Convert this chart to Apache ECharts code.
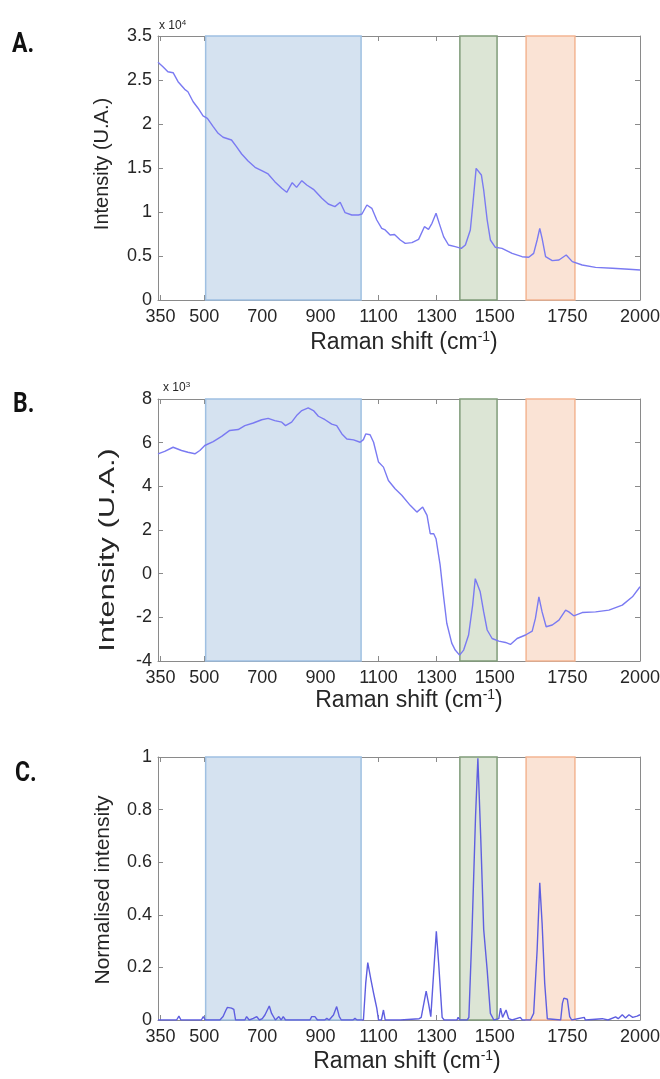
<!DOCTYPE html>
<html>
<head>
<meta charset="utf-8">
<script src="https://cdn.jsdelivr.net/npm/echarts@6/dist/echarts.min.js"></script>
<style>
html,body{margin:0;padding:0;background:#fff;}
#chart{width:660px;height:1079px;}
</style>
</head>
<body>
<div id="chart"></div>
<script>
// ---------------- data ----------------
const xTickValues = [350, 500, 700, 900, 1100, 1300, 1500, 1750, 2000];
const xTickLabels = ['350', '500', '700', '900', '1100', '1300', '1500', '1750', '2000'];
const yTickLabelsA = ['0', '0.5', '1', '1.5', '2', '2.5', '3.5'];
const yTickLabelsB = ['-4', '-2', '0', '2', '4', '6', '8'];
const yTickLabelsC = ['0', '0.2', '0.4', '0.6', '0.8', '1'];

const regionBlue = [505, 1040];
const regionGreen = [1380, 1508];
const regionOrange = [1608, 1776];

const shiftA = [341, 358, 375, 393, 410, 433, 444, 462, 479, 496, 511, 531, 548, 565, 594, 611, 629, 651, 675, 698, 720, 743, 767, 784, 803, 818, 836, 853, 876, 905, 927, 950, 968, 985, 1008, 1031, 1043, 1060, 1077, 1094, 1111, 1123, 1140, 1155, 1175, 1192, 1215, 1238, 1258, 1272, 1284, 1298, 1309, 1324, 1341, 1364, 1385, 1399, 1416, 1425, 1436, 1442, 1454, 1462, 1474, 1485, 1502, 1525, 1560, 1594, 1617, 1634, 1646, 1655, 1663, 1675, 1698, 1721, 1746, 1767, 1801, 1847, 1905, 1962, 2000];
const intensityA = [27010, 26510, 25940, 25830, 24810, 23940, 23670, 22530, 21790, 20910, 20650, 19700, 18940, 18490, 18180, 17420, 16590, 15800, 15080, 14690, 14320, 13450, 12690, 12240, 13330, 12800, 13560, 13070, 12580, 11560, 10910, 10610, 11100, 9920, 9660, 9660, 9770, 10800, 10420, 9090, 8150, 7960, 7390, 7450, 6820, 6440, 6520, 6890, 8330, 8030, 8710, 9850, 8710, 7200, 6250, 6060, 5870, 6250, 7960, 10990, 14960, 15080, 14210, 12500, 9090, 6820, 5990, 5870, 5300, 4920, 4850, 5300, 6820, 8140, 7010, 4920, 4470, 4550, 5110, 4360, 3980, 3710, 3600, 3490, 3410];

const shiftB = [341, 364, 393, 422, 444, 468, 485, 502, 531, 560, 588, 617, 640, 669, 698, 720, 743, 767, 780, 801, 818, 836, 858, 876, 893, 916, 939, 956, 974, 991, 1014, 1037, 1048, 1056, 1071, 1083, 1100, 1117, 1134, 1157, 1180, 1209, 1232, 1252, 1267, 1278, 1290, 1298, 1305, 1312, 1324, 1335, 1352, 1364, 1379, 1393, 1410, 1424, 1433, 1439, 1450, 1462, 1474, 1491, 1514, 1537, 1554, 1577, 1606, 1629, 1640, 1652, 1663, 1677, 1698, 1721, 1744, 1755, 1772, 1801, 1847, 1893, 1939, 1974, 2000];
const intensityB = [5490, 5600, 5790, 5640, 5560, 5490, 5640, 5870, 6050, 6290, 6560, 6600, 6780, 6900, 7050, 7110, 7010, 6940, 6780, 6940, 7240, 7470, 7590, 7470, 7210, 7050, 6850, 6780, 6400, 6170, 6130, 6020, 6140, 6400, 6360, 6020, 5110, 4880, 4270, 3890, 3590, 3130, 2820, 3050, 2670, 1830, 1830, 1600, 1000, 400, -1050, -2270, -3180, -3500, -3730, -3500, -2810, -1440, -230, -200, -830, -1750, -2580, -2970, -3090, -3150, -3240, -2970, -2810, -2630, -2050, -1060, -1750, -2430, -2350, -2130, -1670, -1750, -1930, -1780, -1750, -1670, -1440, -1060, -600];

const shiftC = [341, 405, 413, 420, 490, 497, 504, 554, 565, 575, 580, 594, 602, 608, 640, 646, 655, 669, 681, 690, 700, 709, 724, 732, 745, 757, 765, 772, 780, 864, 870, 881, 890, 915, 922, 930, 945, 956, 965, 972, 1012, 1019, 1026, 1048, 1056, 1063, 1074, 1083, 1088, 1094, 1100, 1110, 1117, 1123, 1175, 1240, 1247, 1264, 1272, 1280, 1299, 1307, 1319, 1326, 1370, 1374, 1380, 1405, 1411, 1422, 1434, 1442, 1452, 1462, 1474, 1485, 1497, 1514, 1520, 1527, 1539, 1548, 1560, 1588, 1595, 1623, 1634, 1646, 1655, 1663, 1672, 1681, 1727, 1733, 1738, 1750, 1758, 1765, 1808, 1812, 1870, 1890, 1916, 1925, 1939, 1950, 1962, 1975, 1990, 2000];
const intensityC = [0, 0, 0.015, 0, 0, 0.013, 0, 0, 0.013, 0.038, 0.048, 0.045, 0.04, 0, 0, 0.013, 0, 0.006, 0.013, 0, 0.005, 0.019, 0.053, 0.025, 0, 0.013, 0, 0.013, 0, 0, 0.013, 0.013, 0, 0, 0.006, 0, 0.019, 0.051, 0.013, 0, 0, 0.006, 0, 0, 0.14, 0.218, 0.153, 0.102, 0.076, 0.045, 0, 0, 0.038, 0, 0, 0.005, 0.01, 0.11, 0.064, 0.013, 0.337, 0.216, 0.01, 0, 0, 0.01, 0, 0, 0.01, 0.344, 0.776, 0.995, 0.687, 0.344, 0.19, 0.025, 0, 0.005, 0.045, 0.01, 0.038, 0.005, 0, 0.01, 0, 0, 0.025, 0.267, 0.522, 0.369, 0.14, 0.005, 0, 0.064, 0.083, 0.079, 0.013, 0, 0.01, 0, 0.005, 0, 0.012, 0.005, 0.02, 0.008, 0.02, 0.01, 0.015, 0.02];

// ---------------- styles ----------------
const X_MIN = 341, X_MAX = 2000;
const FONT = 'Liberation Sans, Arial, sans-serif';
const FRAME = '#8a8a8a';
const TXT = '#262626';
const LINE_AB = '#7a7af2';
const LINE_C = '#5e5ee0';

const regionStyles = [
  {color: '#d5e2f0', borderColor: '#9fc0e2'},
  {color: '#dce5d5', borderColor: '#809c7a'},
  {color: '#fae3d5', borderColor: '#f3b592'}
];
const regions = [regionBlue, regionGreen, regionOrange];

const grids = [
  {left: 158, top: 36, width: 482, height: 264, outerBoundsMode: 'none', containLabel: false},
  {left: 158, top: 399, width: 482, height: 262, outerBoundsMode: 'none', containLabel: false},
  {left: 158, top: 757, width: 482, height: 263, outerBoundsMode: 'none', containLabel: false}
];

function xLabel(v) {
  const i = xTickValues.indexOf(Math.round(v));
  return i >= 0 ? xTickLabels[i] : '';
}

function xAxes(g) {
  const base = {
    type: 'value', gridIndex: g, min: X_MIN, max: X_MAX,
    splitLine: {show: false},
    axisLine: {show: true, onZero: false, lineStyle: {color: FRAME, width: 1}},
    axisTick: {show: true, inside: true, length: 5, customValues: xTickValues, lineStyle: {color: FRAME}}
  };
  return [
    Object.assign({}, base, {position: 'bottom',
      axisLabel: {show: true, customValues: xTickValues, formatter: xLabel, fontSize: 18, fontFamily: FONT, color: TXT, margin: 8, hideOverlap: false}}),
    Object.assign({}, base, {position: 'top', axisLabel: {show: false}})
  ];
}

function yAxes(g, min, max, interval, labels) {
  const base = {
    type: 'value', gridIndex: g, min: min, max: max, interval: interval,
    splitLine: {show: false},
    axisLine: {show: true, onZero: false, lineStyle: {color: FRAME, width: 1}},
    axisTick: {show: true, inside: true, length: 5, lineStyle: {color: FRAME}}
  };
  return [
    Object.assign({}, base, {position: 'left',
      axisLabel: {show: true, fontSize: 18, fontFamily: FONT, color: TXT, margin: 6,
        formatter: v => labels[Math.round((v - min) / interval)]}}),
    Object.assign({}, base, {position: 'right', axisLabel: {show: false}})
  ];
}

function zip(xs, ys) { return xs.map((x, i) => [x, ys[i]]); }

function markAreas() {
  return {
    silent: true,
    data: regions.map((r, i) => [
      {xAxis: r[0], itemStyle: {color: regionStyles[i].color, borderColor: regionStyles[i].borderColor, borderWidth: 1.5, opacity: 1}},
      {xAxis: r[1]}
    ])
  };
}

function lineSeries(g, xs, ys, color) {
  return {
    type: 'line', xAxisIndex: 2 * g, yAxisIndex: 2 * g,
    data: zip(xs, ys), showSymbol: false, symbol: 'none',
    lineStyle: {color: color, width: 1.4}, z: 3,
    markArea: markAreas()
  };
}

const xTitleRich = {
  a: {fontSize: 23, fontFamily: FONT, fill: TXT, lineHeight: 26},
  s: {fontSize: 14, fontFamily: FONT, fill: TXT, verticalAlign: 'top', lineHeight: 14}
};

function xTitle(cx, cy) {
  return {type: 'text', x: cx, y: cy, style: {text: '{a|Raman shift (cm}{s|-1}{a|)}', rich: xTitleRich, align: 'center', verticalAlign: 'middle'}};
}

function yTitle(cx, cy, text, size, stretch) {
  return {type: 'text', x: cx, y: cy, rotation: Math.PI / 2, scaleX: stretch,
    style: {text: text, fontSize: size, fontFamily: FONT, fill: TXT, align: 'center', verticalAlign: 'middle'}};
}

function expLabel(x, cy, exp) {
  return {type: 'text', x: x, y: cy, style: {text: '{a|x 10}{s|' + exp + '}',
    rich: {a: {fontSize: 12, fontFamily: FONT, fill: TXT, lineHeight: 14}, s: {fontSize: 8, fontFamily: FONT, fill: TXT, verticalAlign: 'top', lineHeight: 8}},
    align: 'left', verticalAlign: 'middle'}};
}

function panelLabel(x, cy, t) {
  return {type: 'text', x: x, y: cy, scaleX: 0.82, style: {text: t, fontSize: 28, fontWeight: 'bold',
    fontFamily: 'Roboto, Liberation Sans, sans-serif', fill: '#111', align: 'left', verticalAlign: 'middle'}};
}

const option = {
  animation: false,
  backgroundColor: '#fff',
  grid: grids,
  xAxis: [].concat(xAxes(0), xAxes(1), xAxes(2)),
  yAxis: [].concat(
    yAxes(0, 0, 30000, 5000, yTickLabelsA),
    yAxes(1, -4000, 8000, 2000, yTickLabelsB),
    yAxes(2, 0, 1, 0.2, yTickLabelsC)
  ),
  series: [
    lineSeries(0, shiftA, intensityA, LINE_AB),
    lineSeries(1, shiftB, intensityB, LINE_AB),
    lineSeries(2, shiftC, intensityC, LINE_C)
  ],
  graphic: [
    panelLabel(12, 45, 'A.'),
    panelLabel(13, 405, 'B.'),
    panelLabel(15, 774, 'C.'),
    expLabel(159, 26, '4'),
    expLabel(163, 388, '3'),
    xTitle(404, 343),
    xTitle(409, 701),
    xTitle(407, 1062),
    yTitle(102, 164, 'Intensity (U.A.)', 20, 1.0),
    yTitle(108, 550, 'Intensity (U.A.)', 22, 1.4),
    yTitle(103, 890, 'Normalised intensity', 21, 1.0)
  ]
};

const chart = echarts.init(document.getElementById('chart'), null, {renderer: 'canvas'});
chart.setOption(option);
</script>
</body>
</html>
